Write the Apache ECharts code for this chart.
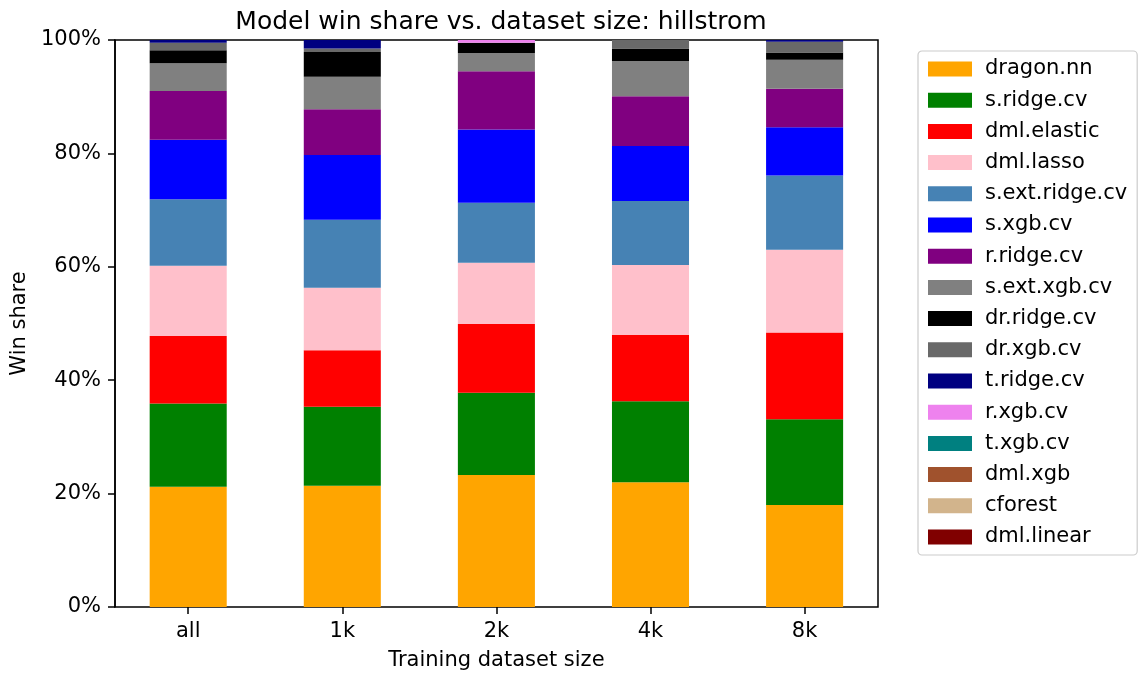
<!DOCTYPE html>
<html>
<head>
<meta charset="utf-8">
<script src="https://cdn.jsdelivr.net/npm/echarts@6/dist/echarts.min.js"></script>
<style>html,body{margin:0;padding:0;background:#fff}#c{width:1143px;height:677px}</style>
</head>
<body>
<div id="c"></div>
<script>
const categories = ['all', '1k', '2k', '4k', '8k'];
const yTicks = [0, 20, 40, 60, 80, 100];
const seriesNames = ['dragon.nn','s.ridge.cv','dml.elastic','dml.lasso','s.ext.ridge.cv','s.xgb.cv','r.ridge.cv','s.ext.xgb.cv','dr.ridge.cv','dr.xgb.cv','t.ridge.cv','r.xgb.cv','t.xgb.cv','dml.xgb','cforest','dml.linear'];
const seriesColors = ['#FFA500','#008000','#FF0000','#FFC0CB','#4682B4','#0000FF','#800080','#808080','#000000','#696969','#000080','#EE82EE','#008080','#A0522D','#D2B48C','#800000'];
// win share (%) per model, order: all, 1k, 2k, 4k, 8k
const dragonNn     = [21.2, 21.4, 23.3, 22.0, 18.0];
const sRidgeCv     = [14.7, 13.9, 14.5, 14.3, 15.1];
const dmlElastic   = [11.9, 10.0, 12.1, 11.7, 15.3];
const dmlLasso     = [12.4, 11.0, 10.8, 12.3, 14.6];
const sExtRidgeCv  = [11.7, 12.0, 10.6, 11.3, 13.1];
const sXgbCv       = [10.5, 11.4, 12.9,  9.7,  8.5];
const rRidgeCv     = [ 8.6,  8.1, 10.3,  8.8,  6.8];
const sExtXgbCv    = [ 4.9,  5.7,  3.2,  6.2,  5.1];
const drRidgeCv    = [ 2.3,  4.4,  1.8,  2.2,  1.3];
const drXgbCv      = [ 1.3,  0.6,  0.0,  1.5,  1.9];
const tRidgeCv     = [ 0.5,  1.5,  0.0,  0.0,  0.3];
const rXgbCv       = [ 0.0,  0.0,  0.5,  0.0,  0.0];
const tXgbCv       = [ 0.0,  0.0,  0.0,  0.0,  0.0];
const dmlXgb       = [ 0.0,  0.0,  0.0,  0.0,  0.0];
const cforest      = [ 0.0,  0.0,  0.0,  0.0,  0.0];
const dmlLinear    = [ 0.0,  0.0,  0.0,  0.0,  0.0];
const seriesData = [dragonNn, sRidgeCv, dmlElastic, dmlLasso, sExtRidgeCv, sXgbCv, rRidgeCv, sExtXgbCv, drRidgeCv, drXgbCv, tRidgeCv, rXgbCv, tXgbCv, dmlXgb, cforest, dmlLinear];

const FONT = 'DejaVu Sans';
const AX = {color: '#000', width: 1.5};
const chart = echarts.init(document.getElementById('c'), null, {renderer: 'canvas'});
chart.setOption({
  animation: false,
  backgroundColor: '#ffffff',
  textStyle: {fontFamily: FONT, color: '#000'},
  title: {
    text: 'Model win share vs. dataset size: hillstrom',
    left: 496, top: 5, textAlign: 'center',
    textStyle: {fontFamily: FONT, fontSize: 25, fontWeight: 'normal', color: '#000'}
  },
  legend: {
    orient: 'vertical', left: 918, top: 51,
    data: seriesNames,
    itemWidth: 44, itemHeight: 15, itemGap: 10.2,
    padding: [7.5, 10, 7.5, 10],
    borderColor: '#cccccc', borderWidth: 1.2, borderRadius: 4,
    icon: 'rect',
    textStyle: {fontFamily: FONT, fontSize: 21, lineHeight: 21, color: '#000', padding: [0, 0, 0, 8]}
  },
  grid: [
    // bar grid: category bands slightly wider than the frame, as in matplotlib's margins
    {left: 111.15, right: 261.35, top: 40, bottom: 70, show: false},
    // frame grid
    {left: 115, right: 265, top: 40, bottom: 70, show: true, borderColor: '#000', borderWidth: 1.5, backgroundColor: 'transparent'}
  ],
  xAxis: [
    {
      type: 'category', data: categories, gridIndex: 0, boundaryGap: true,
      name: 'Training dataset size', nameLocation: 'middle', nameGap: 43,
      nameTextStyle: {fontFamily: FONT, fontSize: 21, color: '#000', verticalAlign: 'top'},
      axisLine: {show: false},
      axisTick: {show: true, alignWithLabel: true, length: 7, lineStyle: AX},
      axisLabel: {fontFamily: FONT, fontSize: 21, color: '#000', margin: 14},
      splitLine: {show: false}
    },
    {type: 'value', gridIndex: 1, min: 0, max: 1, show: false}
  ],
  yAxis: [
    {type: 'value', gridIndex: 0, min: 0, max: 100, show: false},
    {
      type: 'value', gridIndex: 1, min: 0, max: 100, interval: 20,
      name: 'Win share', nameLocation: 'middle', nameGap: 82,
      nameTextStyle: {fontFamily: FONT, fontSize: 21, color: '#000'},
      axisLine: {show: true, onZero: false, lineStyle: AX},
      axisTick: {show: true, length: 7, lineStyle: AX},
      axisLabel: {fontFamily: FONT, fontSize: 21, color: '#000', margin: 14,
        formatter: v => (yTicks.indexOf(v) >= 0 ? v + '%' : '')},
      splitLine: {show: false}
    }
  ],
  series: seriesNames.map((n, i) => ({
    name: n, type: 'bar', stack: 'total', barWidth: '50%',
    xAxisIndex: 0, yAxisIndex: 0,
    data: seriesData[i],
    itemStyle: {color: seriesColors[i]},
    emphasis: {disabled: true}
  }))
});
</script>
</body>
</html>
